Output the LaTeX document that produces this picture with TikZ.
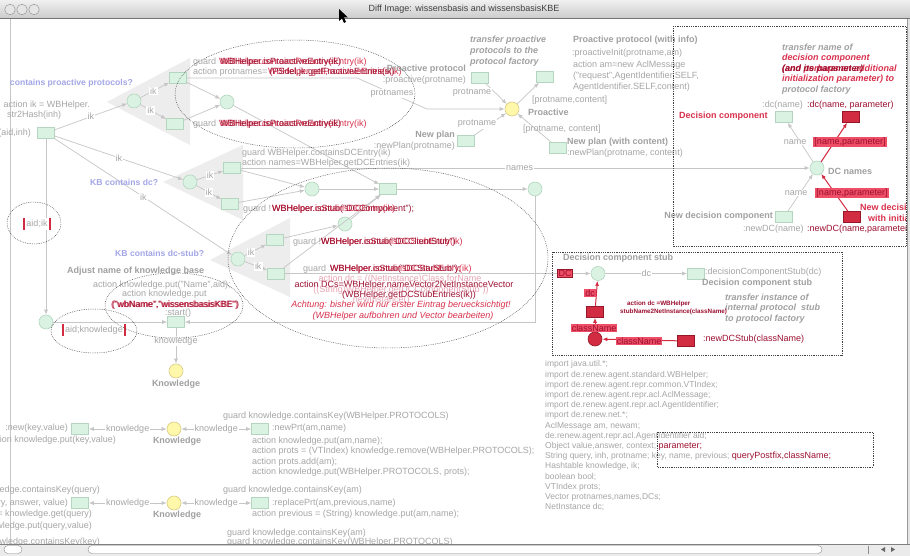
\documentclass[tikz,border=0pt]{standalone}
\usepackage{fontspec}
\setmainfont{Liberation Sans}
\usetikzlibrary{arrows.meta}
\definecolor{gtext}{HTML}{A6A6A6}
\definecolor{ghead}{HTML}{A0A0A0}
\definecolor{purp}{HTML}{A3A6E6}
\definecolor{plfill}{HTML}{D9F2E1}
\definecolor{plline}{HTML}{B4D6C0}
\definecolor{yfill}{HTML}{FFF7AA}
\definecolor{yline}{HTML}{D9CD85}
\definecolor{arcc}{HTML}{C6C6C6}
\definecolor{trif}{HTML}{EDEDED}
\definecolor{rtext}{HTML}{D8304C}
\definecolor{drtext}{HTML}{9C1030}
\definecolor{rfill}{HTML}{D22C42}
\definecolor{rline}{HTML}{961828}
\definecolor{rlabc}{HTML}{EE4E66}
\definecolor{faint}{HTML}{E6A4B4}
\begin{document}
\begin{tikzpicture}[x=1pt,y=-1pt,
  txt/.style={font=\fontsize{9}{10.5}\selectfont, text=gtext, inner sep=0pt},
  hd/.style={font=\fontsize{9}{10.5}\selectfont\bfseries, text=ghead, inner sep=0pt},
  hdi/.style={font=\fontsize{9}{10.5}\selectfont\bfseries\itshape, text=ghead, inner sep=0pt},
  pu/.style={font=\fontsize{8.6}{10}\selectfont\bfseries, text=purp, inner sep=0pt},
  rt/.style={font=\fontsize{9}{10.5}\selectfont, text=rtext, inner sep=0pt},
  drt/.style={font=\fontsize{9}{10.5}\selectfont, text=drtext, inner sep=0pt},
  rit/.style={font=\fontsize{9}{10.5}\selectfont\itshape, text=rtext, inner sep=0pt},
  place/.style={circle, draw=plline, fill=plfill, line width=0.6pt, minimum size=14pt, inner sep=0pt},
  ypl/.style={place, draw=yline, fill=yfill},
  rpl/.style={circle, draw=rline, fill=rfill, line width=0.6pt, minimum size=14pt, inner sep=0pt},
  trans/.style={rectangle, draw=plline, fill=plfill, line width=0.6pt, minimum width=17pt, minimum height=11pt, inner sep=0pt},
  rtrans/.style={rectangle, draw=rline, fill=rfill, line width=0.6pt, minimum width=17pt, minimum height=11pt, inner sep=0pt},
  arc/.style={draw=arcc, line width=0.7pt, -{Latex[length=5pt,width=4pt]}},
  rarc/.style={draw=rfill, line width=1pt, -{Latex[length=5pt,width=4pt]}},
  barc/.style={draw=arcc, line width=0.7pt, {Latex[length=5pt,width=4pt]}-{Latex[length=5pt,width=4pt]}},
  alab/.style={txt, fill=white, inner sep=1pt},
  rlab/.style={font=\fontsize{9}{10.5}\selectfont, fill=rlabc, text=drtext, inner sep=1pt},
  barlab/.style={txt, fill=white, inner xsep=1pt, minimum height=11pt},
  dotln/.style={draw=black!75, line width=0.5pt, dash pattern=on 0.7pt off 1.1pt},
]
\useasboundingbox (0,0) rectangle (910,556);
\fill[white] (0,0) rectangle (910,556);
\begin{scope}
\clip (0,19) rectangle (907,544);
\draw[arcc, line width=0.6pt] (10.5,19) -- (10.5,544);
% grey triangles
\fill[trif] (107,102) -- (190,58) -- (190,145) -- cycle;
\fill[trif] (163,182) -- (243,145) -- (243,220) -- cycle;
\fill[trif] (210,260) -- (290,218) -- (290,297) -- cycle;

% ---------- nodes ----------
\node[trans] (t0) at (46,133) {};
\node[place] (p1) at (134,101) {};
\node[trans] (t1a) at (178,78) {};
\node[trans] (t1b) at (175,124) {};
\node[place] (p2) at (227,102) {};
\node[place] (p3) at (190,182) {};
\node[trans] (t3a) at (232,168) {};
\node[trans] (t3b) at (230,204) {};
\node[place] (p4) at (312,189) {};
\node[trans] (tDC) at (388,189) {};
\node[place] (pNames) at (535,189) {};
\node[place] (p5) at (238,259) {};
\node[trans] (t5a) at (275,240) {};
\node[trans] (t5b) at (276,273.5) {};
\node[place] (p6) at (345,224) {};
\node[place] (pS) at (46,322) {};
\node[trans] (tS) at (176,322) {};
\node[ypl] (pK) at (176,371) {};
\node[ypl] (pPro) at (512,109) {};
\node[trans] (tPro) at (480,78) {};
\node[trans] (tProI) at (545,77) {};
\node[trans] (tNP) at (466,141) {};
\node[trans] (tNPC) at (558,148) {};
\node[place] (pDC) at (817,168) {};
\node[trans] (tDCg) at (784,117) {};
\node[rtrans] (tDCr) at (851,117) {};
\node[trans] (tNDg) at (784,217) {};
\node[rtrans] (tNDr) at (852,217) {};
\node[place] (pStub) at (598,273.5) {};
\node[trans] (tStub) at (696,273.5) {};
\node[rtrans] (tAct) at (595,312) {};
\node[rpl] (pCN) at (595,339) {};
\node[rtrans] (tNew) at (686,341) {};
\node[trans] (tNew1) at (80,429) {};
\node[ypl] (pK1) at (174,429) {};
\node[trans] (tPrt) at (260,429) {};
\node[trans] (tAns) at (80,503) {};
\node[ypl] (pK2) at (174,503) {};
\node[trans] (tRep) at (260,503) {};

\coordinate (b1) at (357,78);
\coordinate (b2) at (427,109);

% ---------- arcs ----------
\draw[arc] (t0) -- node[alab]{ik} (p1);
\draw[arc] (p1) -- node[alab,pos=.45]{ik} (t1a);
\draw[arc] (p1) -- node[alab,pos=.4]{ik} (t1b);
\draw[arc] (t1a) -- (p2);
\draw[arc] (t1b) -- (p2);
\draw[arc] (t1a.east) -- (b1) -- node[alab]{protnames} (b2) -- (pPro);
\draw[arc] (p2) -- (tDC);
\draw[arc] (t0) -- node[alab]{ik} (p3);
\draw[arc] (p3) -- node[alab]{ik} (t3a);
\draw[arc] (p3) -- node[alab]{ik} (t3b);
\draw[arc] (t3a) -- (p4);
\draw[arc] (t3b) -- (p4);
\draw[arc] (p4) -- (tDC);
\draw[arc] (tDC) -- (pNames);
\draw[arc] (t3a) -- node[alab,pos=.49]{names} (pDC);
\draw[arc] (t0) -- node[alab]{ik} (p5);
\draw[arc] (p5) -- node[alab,pos=.3]{ik} (t5a);
\draw[arc] (p5) -- node[alab,pos=.6]{ik} (t5b);
\draw[arc] (t5a) -- (p6);
\draw[arc] (p6) -- (tDC);
\draw[arc] (t5b) -- (tDC);
\draw[arc] (t5b) -- (pStub);
\draw[arc] (pNames) |- (tS);
\draw[arc] (t0) -- (pS);
\draw[arc] (pS) -- (tS);
\draw[arc] (tS) -- node[alab,pos=.37]{knowledge} (pK);
\draw[arc] (tPro) -- (pPro);
\draw[arc] (tNP) -- (pPro);
\draw[arc] (tNPC) -- (pPro);
\draw[arc] (pPro) -- (tProI);
\draw[arc] (pDC) -- (tDCg);
\draw[rarc] (pDC) -- (tDCr);
\draw[arc] (tNDg) -- (pDC);
\draw[rarc] (tNDr) -- (pDC);
\draw[arc] (pStub) -- node[alab]{dc} (tStub);
\draw[rarc] (tAct) -- (pStub);
\draw[rarc] (pCN) -- (tAct);
\draw[rarc] (tNew) -- (pCN);
\draw[barc] (tNew1) -- node[alab]{knowledge} (pK1);
\draw[barc] (pK1) -- node[alab]{knowledge} (tPrt);
\draw[barc] (tAns) -- node[alab]{knowledge} (pK2);
\draw[barc] (pK2) -- node[alab]{knowledge} (tRep);

% ---------- arc labels ----------
\node[barlab] (lik) at (37,224) {aid;ik};
\fill[rfill] ([xshift=-2.5pt]lik.north west) rectangle (lik.south west);
\fill[rfill] (lik.north east) rectangle ([xshift=2.5pt]lik.south east);
\node[barlab] (lkn) at (94,330) {aid;knowledge};
\fill[rfill] ([xshift=-2.5pt]lkn.north west) rectangle (lkn.south west);
\fill[rfill] (lkn.north east) rectangle ([xshift=2.5pt]lkn.south east);
\node[alab] (lpn1) at (472,93) {protname};
\node[alab] (lpn2) at (477,124) {protname};
\node[txt, anchor=west] (lpc1) at (532,100) {[protname,content]};
\node[txt, anchor=west] (lpc2) at (523,129) {[protname, content]};
\node[alab] (ln1) at (795,142) {name};
\node[alab] (ln2) at (796,193) {name};
\node[rlab] (rl1) at (850,142) {[name,parameter]};
\node[rlab] (rl2) at (852,193) {[name,parameter]};
\node[rlab, draw=rline] (rdc) at (565,273.5) {DC};
\node[rlab] (rdc2) at (590,293) {dc};
\node[rlab] (rcn1) at (594,328) {className};
\node[rlab] (rcn2) at (639,341) {className};

% ---------- group A texts ----------
\node[pu, anchor=east] (h1) at (133,83) {contains proactive protocols?};
\node[txt, anchor=east] (i1) at (90,105) {action ik = WBHelper.};
\node[txt, anchor=west] (i2) at (7,115) {str2Hash(inh)};
\node[txt, anchor=east] (i3) at (31,133) {(aid,inh)};
\node[txt, anchor=west] (g1) at (193,62) {guard};
\node[rt, anchor=west] (g1r) at (219,62) {WBHelper.containsProactiveEntry(ik)};
\node[drt, anchor=west] (g1s) at (220.5,62) {WBHelper.isProactiveEntry(ik)};
\node[txt, anchor=west] (a1) at (193,72) {action protnames=};
\node[rt, anchor=west] (a1r) at (268,72) {WBHelper.getProactiveEntries(ik)};
\node[drt, anchor=west] (a1s) at (269.5,72) {(PSdel,jk.getF,ractiveEntries(ik)};
\node[txt, anchor=west] (g2) at (193,124) {guard};
\node[rt, anchor=west] (g2r) at (219,124) {WBHelper.containsProactiveEntry(ik)};
\node[drt, anchor=west] (g2s) at (220.5,124) {WBHelper.isProactiveEntry(ik)};

% ---------- proactive texts ----------
\node[hdi, anchor=west] (tr1) at (470,40) {transfer proactive};
\node[hdi, anchor=west] (tr2) at (470,51) {protocols to the};
\node[hdi, anchor=west] (tr3) at (470,62) {protocol factory};
\node[hd, anchor=east] (pp) at (466,69) {Proactive protocol};
\node[txt, anchor=east] (pp2) at (466,80) {:proactive(protname)};
\node[hd, anchor=west] (ppi) at (573,40) {Proactive protocol (with info)};
\node[txt, anchor=west] (ppi1) at (572,53) {:proactiveInit(protname,am)};
\node[txt, anchor=west] (ppi2) at (573,65) {action am=new AclMessage};
\node[txt, anchor=west] (ppi3) at (573,76) {("request",AgentIdentifier.SELF,};
\node[txt, anchor=west] (ppi4) at (573,87) {AgentIdentifier.SELF,content)};
\node[hd, anchor=west] (prl) at (528,112) {Proactive};
\node[hd, anchor=east] (np1) at (455,135) {New plan};
\node[txt, anchor=east] (np2) at (455,146) {:newPlan(protname)};
\node[hd, anchor=west] (npc1) at (567,142) {New plan (with content)};
\node[txt, anchor=west] (npc2) at (567,153) {:newPlan(protname, content)};

% ---------- group B / C texts ----------
\node[pu, anchor=west] (h2) at (90,182) {KB contains dc?};
\node[txt, anchor=west] (gb1) at (242,153) {guard WBHelper.containsDCEntry(ik)};
\node[txt, anchor=west] (gb2) at (242,163) {action names=WBHelper.getDCEntries(ik)};
\node[txt, anchor=west] (gb3) at (243,209) {guard !};
\node[rt, anchor=west] (gb3r) at (272,209) {WBHelper.containsDCEntry(ik)};
\node[drt, anchor=west] (gb3s) at (272,209) {WBHelper.isStub("DCComponent");};
\node[pu, anchor=west] (h3) at (115,253) {KB contains dc-stub?};
\node[txt, anchor=west] (gc1) at (293,242) {guard !};
\node[rt, anchor=west] (gc1r) at (321,242) {WBHelper.containsDCStubEntry(ik)};
\node[drt, anchor=west] (gc1s) at (321,242) {WBHelper.isStub("DCClientStub")};
\node[txt, anchor=west] (gc2) at (303,269) {guard};
\node[rt, anchor=west] (gc2r) at (330,269) {WBHelper.containsDCStubEntry(ik)};
\node[drt, anchor=west] (gc2s) at (330,269) {WBHelper.isStub("DCStarStub");};
\node[txt, text=faint] (f1) at (400,279) {action dc = ((NetInstance)Class.forName};
\node[drt] (ac1) at (404,285) {action DCs=WBHelper.nameVector2NetInstanceVector};
\node[txt, text=faint] (f2) at (401,290) {((String)WBHelper.getDCComponentStub"))};
\node[drt] (ac2) at (409,295) {(WBHelper.getDCStubEntries(ik))};
\node[txt, text=faint] (f3) at (380,300) {.newInstance()};
\node[rit] (ach1) at (401,305) {Achtung: bisher wird nur erster Eintrag beruecksichtigt!};
\node[rit] (ach2) at (403,316) {(WBHelper aufbohren und Vector bearbeiten)};

% ---------- start / knowledge texts ----------
\node[hd, anchor=west] (adj) at (67,271) {Adjust name of knowledge base};
\node[txt, anchor=west] (adj1) at (93,285) {action knowledge.put("Name",aid);};
\node[txt, anchor=west] (adj2) at (122,294) {action knowledge.put};
\node[rt, anchor=west] (adj3) at (111,305) {("wbName","wissensbasisKBE")};
\node[drt, anchor=west] (adj4) at (111.8,305) {("wbName","wissensbasisKBE")};
\node[txt] (st) at (178,313) {:start()};
\node[hd] (kn0) at (176,384) {Knowledge};

\node[txt, anchor=east] (r1a) at (68,428) {:new(key,value)};
\node[txt, anchor=east] (r1b) at (116,440) {action knowledge.put(key,value)};
\node[hd] (kn1) at (177,441) {Knowledge};
\node[txt, anchor=west] (r1c) at (223,416) {guard knowledge.containsKey(WBHelper.PROTOCOLS)};
\node[txt, anchor=west] (r1d) at (272,428) {:newPrt(am,name)};
\node[txt, anchor=west] (r1e) at (252,441) {action knowledge.put(am,name);};
\node[txt, anchor=west] (r1f) at (252,451.5) {action prots = (VTIndex) knowledge.remove(WBHelper.PROTOCOLS);};
\node[txt, anchor=west] (r1g) at (252,462) {action prots.add(am);};
\node[txt, anchor=west] (r1h) at (252,472.5) {action knowledge.put(WBHelper.PROTOCOLS, prots);};

\node[txt, anchor=east] (r2a) at (100,490) {guard knowledge.containsKey(query)};
\node[txt, anchor=east] (r2b) at (68,503) {:ask(query, answer, value)};
\node[txt, anchor=east] (r2c) at (92,514) {action answer = knowledge.get(query)};
\node[txt, anchor=east] (r2d) at (92,526) {action knowledge.put(query,value)};
\node[txt, anchor=east] (r2e) at (100,542) {guard knowledge.containsKey(key)};
\node[hd] (kn2) at (177,515) {Knowledge};
\node[txt, anchor=west] (r2f) at (223,490) {guard knowledge.containsKey(am)};
\node[txt, anchor=west] (r2g) at (272,503) {:replacePrt(am,previous,name)};
\node[txt, anchor=west] (r2h) at (252,514) {action previous = (String) knowledge.put(am,name);};
\node[txt, anchor=west] (r2i) at (227,533) {guard knowledge.containsKey(am)};
\node[txt, anchor=west] (r2j) at (227,542.5) {guard knowledge.containsKey(WBHelper.PROTOCOLS)};

% ---------- decision component texts ----------
\node[hdi, anchor=west] (dt1) at (782,47) {transfer name of};
\node[hdi, text=rtext, anchor=west] (dt2) at (782,58) {decision component};
\node[hdi, text=rtext, anchor=west] (dt3) at (782,69) {(and perhaps an additional};
\node[hdi, text=drtext, anchor=west] (dt3b) at (782,69) {(and its parameter)};
\node[hdi, text=rtext, anchor=west] (dt4) at (782,79) {initialization parameter) to};
\node[hdi, anchor=west] (dt5) at (782,90) {protocol factory};
\node[txt, anchor=east] (dc1) at (803,105) {:dc(name)};
\node[drt, anchor=west] (dc2) at (807,105) {:dc(name, parameter)};
\node[hd, text=rtext, anchor=west] (dc3) at (679,116) {Decision component};
\node[hd, anchor=west] (dcn) at (828,171) {DC names};
\node[hd, anchor=east] (nd1) at (773,216) {New decision component};
\node[hd, text=rtext, anchor=west] (nd2) at (860,208) {New decision component};
\node[hd, text=rtext, anchor=west] (nd3) at (868,219) {with initialization parameter};
\node[txt, anchor=west] (nd4) at (743,229) {:newDC(name)};
\node[drt, anchor=west] (nd5) at (807,229) {:newDC(name,parameter)};

% ---------- stub texts ----------
\node[hd, anchor=west] (sb1) at (563,258) {Decision component stub};
\node[txt, anchor=west] (sb2) at (705,272) {:decisionComponentStub(dc)};
\node[hd, anchor=west] (sb3) at (702,283) {Decision component stub};
\node[hdi, anchor=west] (sb4) at (725,297) {transfer instance of};
\node[hdi, anchor=west] (sb5) at (725,308) {internal protocol\ \ stub};
\node[hdi, anchor=west] (sb6) at (725,319) {to protocol factory};
\node[drt, font=\fontsize{6.3}{7}\selectfont\bfseries, anchor=west] (sb7) at (627,304) {action dc =WBHelper};
\node[drt, font=\fontsize{6.3}{7}\selectfont\bfseries, anchor=west] (sb8) at (620,312) {stubName2NetInstance(className)};
\node[drt, anchor=west] (sb9) at (703,339) {:newDCStub(className)};

% ---------- declarations ----------
\node[txt, anchor=north west, align=left, font=\fontsize{8.5}{10.2}\selectfont] (decl) at (545,360.5) {import java.util.*;\\
import de.renew.agent.standard.WBHelper;\\
import de.renew.agent.repr.common.VTIndex;\\
import de.renew.agent.repr.acl.AclMessage;\\
import de.renew.agent.repr.acl.AgentIdentifier;\\
import de.renew.net.*;\\
AclMessage am, newam;\\
de.renew.agent.repr.acl.AgentIdentifier aid;\\
Object value,answer, context; \textcolor{drtext}{\fontsize{9}{10.2}\selectfont parameter;}\\
String query, inh, protname; key, name, previous; \textcolor{drtext}{\fontsize{9}{10.2}\selectfont queryPostfix,className;}\\
Hashtable knowledge, ik;\\
boolean bool;\\
VTIndex prots;\\
Vector protnames,names,DCs;\\
NetInstance dc;};

% ---------- dotted annotations ----------
\draw[dotln] (673,26) rectangle (906,246);
\draw[dotln] (552,252) rectangle (842,355);
\draw[dotln] (657,432) rectangle (873,467);
\draw[dotln] (295,94) ellipse [x radius=120pt, y radius=54pt];
\draw[dotln] (34,223) ellipse [x radius=27pt, y radius=21pt];
\draw[dotln] (94,331) ellipse [x radius=43pt, y radius=22pt];
\draw[dotln] (174,305.5) ellipse [x radius=69pt, y radius=32.5pt];
\draw[dotln] (388,258) ellipse [x radius=160pt, y radius=90pt];
\end{scope}

% ---------- window chrome ----------
\shade[top color=white!94!black, bottom color=white!80!black] (0,0) rectangle (910,18);
\draw[black!55, line width=1pt] (0,18.5) -- (910,18.5);
\foreach \bx/\bn in {10/b1, 22/b2, 34/b3}
  \node[circle, draw=black!45, fill=white!90!black, minimum size=10.5pt, inner sep=0pt] (\bn) at (\bx,9.5) {};
\node[font=\fontsize{9}{10}\selectfont, text=black!75] (title) at (464,9.5) {Diff Image: wissensbasis and wissensbasisKBE};
\fill[black] (339,9) -- (339,21) -- (342,18.5) -- (344,23) -- (346,22) -- (344,17.5) -- (348,17.5) -- cycle;
\fill[white!90!black] (907,19) rectangle (910,544);
\draw[black!40] (907,19) -- (907,544);
\fill[white!92!black] (0,544) rectangle (910,556);
\draw[black!50] (0,544) -- (910,544);
\draw[black!45, fill=white, rounded corners=4pt] (4,545.5) rectangle (22,553.5);
\draw[black!45, fill=white, rounded corners=4pt] (88,545.5) rectangle (822,553.5);
\draw[black!45] (868,545.5) -- (868,553.5);
\fill[black!60] (881,549.5) -- (885,547) -- (885,552) -- cycle;
\fill[black!60] (895,549.5) -- (891,547) -- (891,552) -- cycle;
\end{tikzpicture}
\end{document}
